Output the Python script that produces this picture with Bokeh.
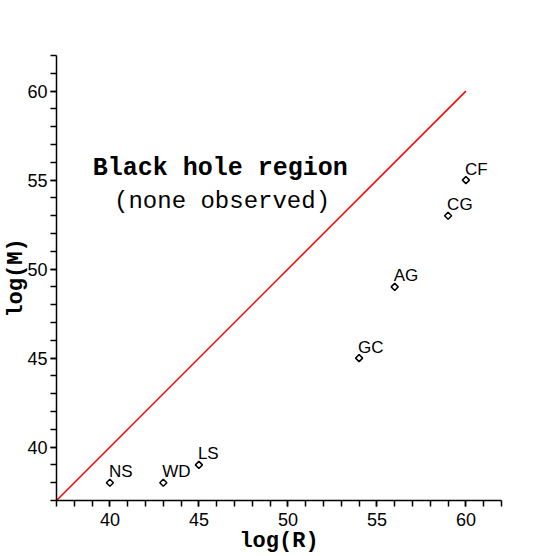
import math
from bokeh.plotting import figure
from bokeh.models import ColumnDataSource, Label, SingleIntervalTicker
from bokeh.core.properties import value
from bokeh.embed import file_html
from bokeh.resources import INLINE

# data
log_r = [40, 43, 45, 54, 56, 59, 60]
log_m = [38, 38, 39, 45, 49, 53, 55]
names = ["NS", "WD", "LS", "GC", "AG", "CG", "CF"]
limit_x = [37, 60]
limit_y = [37, 60]

src = ColumnDataSource(dict(x=log_r, y=log_m, name=names))

p = figure(width=556, height=556, x_range=(37, 62), y_range=(37, 62),
           output_backend="svg", toolbar_location=None,
           min_border_left=56, min_border_right=55, min_border_top=55, min_border_bottom=56)
p.outline_line_color = None
p.grid.visible = False
p.background_fill_color = "white"

for ax in (p.xaxis[0], p.yaxis[0]):
    ax.ticker = SingleIntervalTicker(interval=5, num_minor_ticks=5)
    ax.axis_line_color = "black"
    ax.axis_line_width = 1.5
    ax.major_tick_line_color = "black"
    ax.minor_tick_line_color = "black"
    ax.major_tick_line_width = 1.5
    ax.minor_tick_line_width = 1.5
    ax.major_tick_in = 0
    ax.minor_tick_in = 0
    ax.major_tick_out = 6
    ax.minor_tick_out = 6
    ax.major_label_text_font = "Liberation Sans"
    ax.major_label_text_font_size = "18px"
    ax.major_label_text_color = "black"
    ax.axis_label_text_font = "Liberation Mono"
    ax.axis_label_text_font_style = "bold"
    ax.axis_label_text_font_size = "22px"
    ax.axis_label_text_color = "black"
    ax.axis_label_standoff = 0
p.xaxis.major_label_standoff = 6
p.yaxis.major_label_standoff = 3
p.yaxis.axis_label_standoff = -5
p.xaxis.axis_label = "log(R)"
p.yaxis.axis_label = "log(M)"

p.line(limit_x, limit_y, line_color="red", line_width=1.5)
p.scatter("x", "y", source=src, marker="square", angle=math.pi / 4, size=5,
          fill_color="white", line_color="black", line_width=1.5)
p.text("x", "y", text="name", source=src, x_offset=-1, y_offset=-11,
       text_font=value("Liberation Sans"), text_font_size="17px",
       text_color="black", text_align="left", text_baseline="alphabetic")

p.add_layout(Label(x=46.2, y=55.65, text="Black hole region", text_font="Liberation Mono",
                   text_font_style="bold", text_font_size="25px", text_color="black",
                   text_align="center", text_baseline="alphabetic"))
p.add_layout(Label(x=46.3, y=53.8, text="(none observed)", text_font="Liberation Mono",
                   text_font_size="24px", text_color="black",
                   text_align="center", text_baseline="alphabetic"))

open("out.html", "w").write(file_html(p, INLINE))
